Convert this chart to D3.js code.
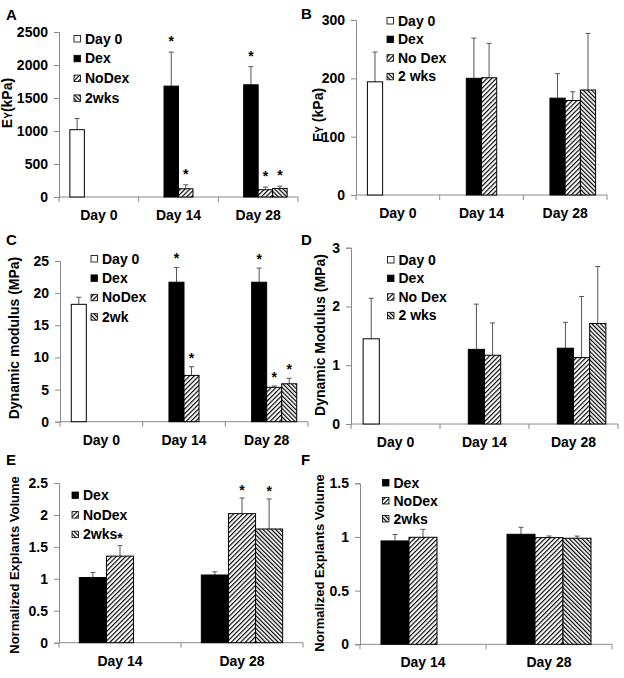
<!DOCTYPE html>
<html><head><meta charset="utf-8">
<script src="https://cdn.jsdelivr.net/npm/d3@7"></script>
<style>
html,body{margin:0;padding:0;background:#fff;}
text{font-family:Arial,"Liberation Sans",sans-serif;}
</style></head>
<body><svg id="c" width="624" height="678"></svg>
<script>
// ---------- DATA ----------
const catsABCD = ["Day 0", "Day 14", "Day 28"];
const catsEF = ["Day 14", "Day 28"];
const seriesKeys4 = ["day0", "dex", "nodex", "wks2"];
const seriesKeys3 = ["dex", "nodex", "wks2"];

// Panel A: Ey (kPa)
const A_day0 = [1020, null, null], A_day0_sd = [170, null, null];
const A_dex = [null, 1680, 1700], A_dex_sd = [null, 515, 275];
const A_nodex = [null, 125, 110], A_nodex_sd = [null, 60, 40];
const A_wks2 = [null, null, 130], A_wks2_sd = [null, null, 35];
const A_star = {dex: [0, 1, 1], nodex: [0, 1, 1], wks2: [0, 0, 1]};
const A_legend = ["Day 0", "Dex", "NoDex", "2wks"];
const A_ticks = [0, 500, 1000, 1500, 2000, 2500];

// Panel B: Ey (kPa)
const B_day0 = [194, null, null], B_day0_sd = [51, null, null];
const B_dex = [null, 200, 166], B_dex_sd = [null, 69, 42];
const B_nodex = [null, 201, 162], B_nodex_sd = [null, 59, 15];
const B_wks2 = [null, null, 180], B_wks2_sd = [null, null, 97];
const B_legend = ["Day 0", "Dex", "No Dex", "2 wks"];
const B_ticks = [0, 100, 200, 300];

// Panel C: Dynamic modulus (MPa)
const C_day0 = [18.26, null, null], C_day0_sd = [1.1, null, null];
const C_dex = [null, 21.7, 21.7], C_dex_sd = [null, 2.3, 2.2];
const C_nodex = [null, 7.2, 5.35], C_nodex_sd = [null, 1.35, 0.2];
const C_wks2 = [null, null, 5.9], C_wks2_sd = [null, null, 0.85];
const C_star = {dex: [0, 1, 1], nodex: [0, 1, 1], wks2: [0, 0, 1]};
const C_legend = ["Day 0", "Dex", "NoDex", "2wk"];
const C_ticks = [0, 5, 10, 15, 20, 25];

// Panel D: Dynamic Modulus (MPa)
const D_day0 = [1.45, null, null], D_day0_sd = [0.69, null, null];
const D_dex = [null, 1.27, 1.29], D_dex_sd = [null, 0.77, 0.44];
const D_nodex = [null, 1.17, 1.13], D_nodex_sd = [null, 0.55, 1.04];
const D_wks2 = [null, null, 1.71], D_wks2_sd = [null, null, 0.97];
const D_legend = ["Day 0", "Dex", "No Dex", "2 wks"];
const D_ticks = [0, 1, 2, 3];

// Panel E: Normalized Explants Volume
const E_dex = [1.02, 1.06], E_dex_sd = [0.08, 0.05];
const E_nodex = [1.355, 2.02], E_nodex_sd = [0.165, 0.245];
const E_wks2 = [null, 1.78], E_wks2_sd = [null, 0.47];
const E_star = {nodex: [1, 1], wks2: [0, 1]};
const E_legend = ["Dex", "NoDex", "2wks"];
const E_ticks = [0, 0.5, 1, 1.5, 2, 2.5];

// Panel F: Normalized Explants Volume
const F_dex = [0.963, 1.025], F_dex_sd = [0.06, 0.065];
const F_nodex = [0.997, 0.994], F_nodex_sd = [0.074, 0.015];
const F_wks2 = [null, 0.988], F_wks2_sd = [null, 0.02];
const F_legend = ["Dex", "NoDex", "2wks"];
const F_ticks = [0, 0.5, 1, 1.5];

// ---------- RENDER ----------
const svg = d3.select("#c");
const defs = svg.append("defs");
function hatch(id, angle, size, sw) {
  const p = defs.append("pattern").attr("id", id).attr("patternUnits", "userSpaceOnUse")
    .attr("width", size).attr("height", size).attr("patternTransform", `rotate(${angle})`);
  p.append("rect").attr("width", size).attr("height", size).attr("fill", "#fff");
  p.append("line").attr("x1", 0.5).attr("y1", 0).attr("x2", 0.5).attr("y2", size)
    .attr("stroke", "#000").attr("stroke-width", sw);
}
hatch("hNo", 45, 3.3, 1.3);
hatch("hWk", -45, 3.0, 1.4);
const fills = {day0: "#fff", dex: "#000", nodex: "url(#hNo)", wks2: "url(#hWk)"};

function panel(cfg) {
  const g = svg.append("g");
  const y = d3.scaleLinear().domain([0, cfg.max]).range([cfg.bottom, cfg.top]);
  const x = d3.scaleBand().domain(cfg.cats).range([cfg.left, cfg.right]);
  const xs = d3.scaleBand().domain(cfg.keys).range([0, x.bandwidth()]).paddingInner(0).paddingOuter(0.75);
  const axisCol = "#8a8a8a";

  // y axis
  const ya = g.append("g").attr("transform", `translate(${cfg.left},0)`)
    .call(d3.axisLeft(y).tickValues(cfg.ticks).tickSize(5).tickPadding(6).tickFormat(d3.format("")));
  ya.select(".domain").attr("stroke", axisCol);
  ya.selectAll(".tick line").attr("stroke", axisCol);
  ya.selectAll(".tick text").attr("font-size", 14).attr("font-weight", "bold").attr("fill", "#000")
    .attr("font-family", "Arial, 'Liberation Sans', sans-serif");

  // x axis
  g.append("line").attr("x1", cfg.left).attr("x2", cfg.right).attr("y1", cfg.bottom).attr("y2", cfg.bottom)
    .attr("stroke", axisCol);
  const bounds = cfg.cats.map(c => x(c)).concat([x(cfg.cats[cfg.cats.length - 1]) + x.bandwidth()]);
  g.selectAll(".xt").data(bounds).enter().append("line")
    .attr("x1", d => d).attr("x2", d => d).attr("y1", cfg.bottom).attr("y2", cfg.bottom + 5)
    .attr("stroke", axisCol);
  g.selectAll(".xl").data(cfg.cats).enter().append("text")
    .attr("x", d => x(d) + x.bandwidth() / 2).attr("y", cfg.bottom + 23)
    .attr("text-anchor", "middle").attr("font-size", 14).attr("font-weight", "bold").text(d => d);

  // bars
  const rows = [];
  cfg.keys.forEach(k => {
    cfg.vals[k].forEach((v, i) => {
      if (v == null) return;
      rows.push({k, cat: cfg.cats[i], v, sd: cfg.sds[k][i], star: cfg.stars && cfg.stars[k] ? cfg.stars[k][i] : 0});
    });
  });
  const bx = d => x(d.cat) + xs(d.k);
  const bw = xs.bandwidth();
  // error bars
  g.selectAll(".eb").data(rows).enter().append("line")
    .attr("x1", d => bx(d) + bw / 2).attr("x2", d => bx(d) + bw / 2)
    .attr("y1", d => y(d.v)).attr("y2", d => y(d.v + d.sd)).attr("stroke", "#555");
  g.selectAll(".ec").data(rows).enter().append("line")
    .attr("x1", d => bx(d) + bw / 2 - 2.5).attr("x2", d => bx(d) + bw / 2 + 2.5)
    .attr("y1", d => y(d.v + d.sd)).attr("y2", d => y(d.v + d.sd)).attr("stroke", "#555");
  g.selectAll(".bar").data(rows).enter().append("rect")
    .attr("x", d => bx(d)).attr("width", bw)
    .attr("y", d => y(d.v)).attr("height", d => y(0) - y(d.v))
    .attr("fill", d => fills[d.k]).attr("stroke", "#000").attr("stroke-width", 1);
  // stars
  g.selectAll(".st").data(rows.filter(d => d.star)).enter().append("text")
    .attr("x", d => bx(d) + bw / 2).attr("y", d => y(d.v + d.sd) - cfg.starOff)
    .attr("text-anchor", "middle").attr("font-size", 14).attr("font-weight", "bold").text("*");

  // legend
  cfg.legend.forEach((lab, i) => {
    const ly = cfg.legY + i * cfg.legStep;
    g.append("rect").attr("x", cfg.legX).attr("y", ly - 3).attr("width", 6.5).attr("height", 6.5)
      .attr("fill", fills[cfg.keys[i]]).attr("stroke", "#000").attr("stroke-width", 0.8);
    g.append("text").attr("x", cfg.legX + 11).attr("y", ly + 5).attr("font-size", 14)
      .attr("font-weight", "bold").text(lab);
  });

  // y label
  const yl = g.append("text").attr("transform", `translate(${cfg.ylX},${cfg.ylY}) rotate(-90)`)
    .attr("text-anchor", "middle").attr("font-size", cfg.ylSize || 14).attr("font-weight", "bold");
  if (cfg.ylE) {
    yl.append("tspan").text("E");
    yl.append("tspan").attr("font-size", 10).text("Y");
    yl.append("tspan").text(cfg.ylE);
  } else yl.text(cfg.yl);

  // panel letter
  g.append("text").attr("x", cfg.pl[0]).attr("y", cfg.pl[1]).attr("font-size", 15)
    .attr("font-weight", "bold").text(cfg.letter);
}

panel({letter: "A", pl: [6, 20], cats: catsABCD, keys: seriesKeys4, max: 2500, ticks: A_ticks,
  vals: {day0: A_day0, dex: A_dex, nodex: A_nodex, wks2: A_wks2},
  sds: {day0: A_day0_sd, dex: A_dex_sd, nodex: A_nodex_sd, wks2: A_wks2_sd}, stars: A_star,
  left: 59, right: 298, top: 32, bottom: 197, starOff: 6,
  legend: A_legend, legX: 74, legY: 38.5, legStep: 19.8, ylX: 12, ylY: 103, ylE: "(kPa)"});

panel({letter: "B", pl: [301, 19], cats: catsABCD, keys: seriesKeys4, max: 300, ticks: B_ticks,
  vals: {day0: B_day0, dex: B_dex, nodex: B_nodex, wks2: B_wks2},
  sds: {day0: B_day0_sd, dex: B_dex_sd, nodex: B_nodex_sd, wks2: B_wks2_sd},
  left: 356, right: 607, top: 20, bottom: 195, starOff: 4,
  legend: B_legend, legX: 387, legY: 20.5, legStep: 18.6, ylX: 323, ylY: 115, ylE: " (kPa)"});

panel({letter: "C", pl: [6, 245], cats: catsABCD, keys: seriesKeys4, max: 25, ticks: C_ticks,
  vals: {day0: C_day0, dex: C_dex, nodex: C_nodex, wks2: C_wks2},
  sds: {day0: C_day0_sd, dex: C_dex_sd, nodex: C_nodex_sd, wks2: C_wks2_sd}, stars: C_star,
  left: 60, right: 308, top: 261, bottom: 421.7, starOff: 4,
  legend: C_legend, legX: 91, legY: 258.5, legStep: 19.4, ylX: 19, ylY: 338, yl: "Dynamic modulus (MPa)"});

panel({letter: "D", pl: [301, 245], cats: catsABCD, keys: seriesKeys4, max: 3, ticks: D_ticks,
  vals: {day0: D_day0, dex: D_dex, nodex: D_nodex, wks2: D_wks2},
  sds: {day0: D_day0_sd, dex: D_dex_sd, nodex: D_nodex_sd, wks2: D_wks2_sd},
  left: 351, right: 618, top: 247.7, bottom: 424, starOff: 4,
  legend: D_legend, legX: 387.5, legY: 259.5, legStep: 18.6, ylX: 325, ylY: 335, yl: "Dynamic Modulus (MPa)"});

panel({letter: "E", pl: [6, 465], cats: catsEF, keys: seriesKeys3, max: 2.5, ticks: E_ticks,
  vals: {dex: E_dex, nodex: E_nodex, wks2: E_wks2},
  sds: {dex: E_dex_sd, nodex: E_nodex_sd, wks2: E_wks2_sd}, stars: E_star,
  left: 59, right: 303, top: 483, bottom: 642.7, starOff: 3,
  legend: E_legend, legX: 72, legY: 495, legStep: 19.6, ylX: 19, ylY: 565, ylSize: 13, yl: "Normalized Explants Volume"});

panel({letter: "F", pl: [301, 465], cats: catsEF, keys: seriesKeys3, max: 1.5, ticks: F_ticks,
  vals: {dex: F_dex, nodex: F_nodex, wks2: F_wks2},
  sds: {dex: F_dex_sd, nodex: F_nodex_sd, wks2: F_wks2_sd},
  left: 360, right: 612, top: 483.3, bottom: 644.3, starOff: 4,
  legend: F_legend, legX: 382.5, legY: 482.5, legStep: 18, ylX: 324, ylY: 563, ylSize: 13, yl: "Normalized Explants Volume"});
</script></body></html>
